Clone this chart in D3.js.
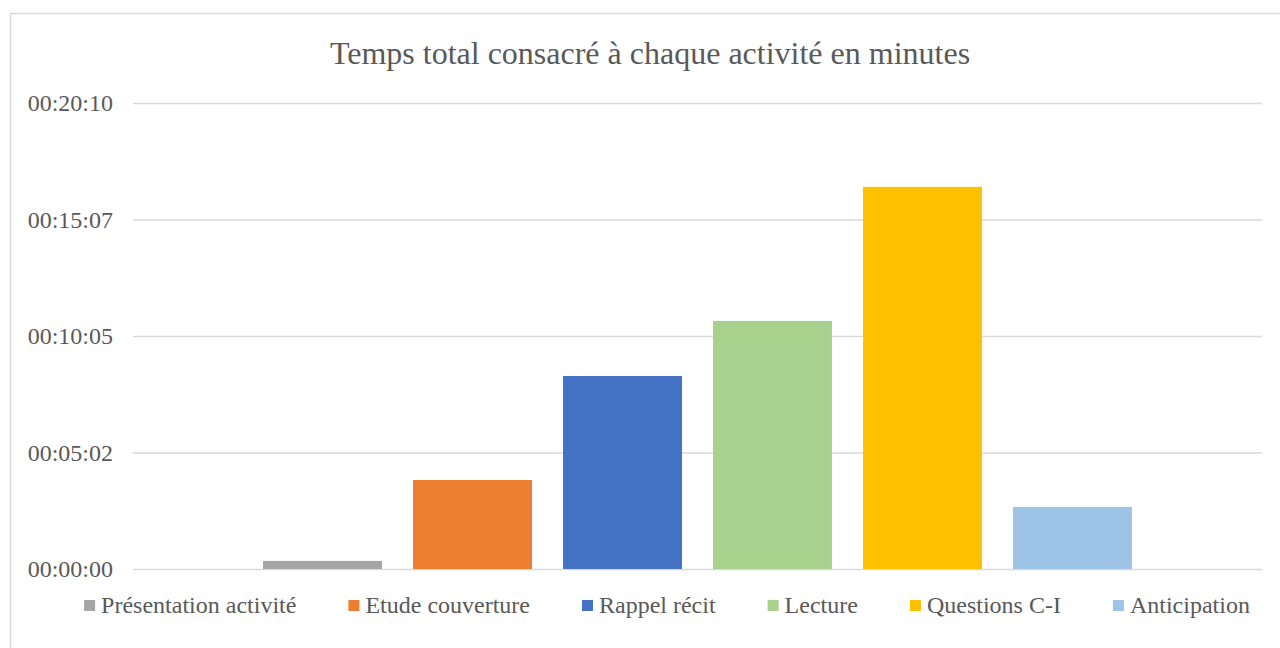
<!DOCTYPE html>
<html>
<head>
<meta charset="utf-8">
<title>Temps total consacré à chaque activité</title>
<script src="https://cdn.jsdelivr.net/npm/d3@7"></script>
<style>
  body { margin: 0; background: #fff; }
</style>
</head>
<body>
<svg width="1280" height="648"></svg>
<script>
// données (durées en secondes)
var activities = ["Présentation activité", "Etude couverture", "Rappel récit", "Lecture", "Questions C-I", "Anticipation"];
var seconds = [21, 231, 501, 644, 992, 161];
var colors = ["#A5A5A5", "#ED7D31", "#4472C4", "#A9D18E", "#FFC000", "#9DC3E6"];
var tickSeconds = [0, 302.4, 604.8, 907.2, 1209.6];
var tickLabels = ["00:00:00", "00:05:02", "00:10:05", "00:15:07", "00:20:10"];
var title = "Temps total consacré à chaque activité en minutes";

var FONT = "'Liberation Serif', serif";
var TXT = "#595959";
var svg = d3.select("svg");
var plot = {left: 133, right: 1262, top: 103, bottom: 569};

// cadre du graphique
svg.append("rect")
  .attr("x", 10.5).attr("y", 13.5)
  .attr("width", 1300).attr("height", 700)
  .attr("fill", "none").attr("stroke", "#D9D9D9").attr("stroke-width", 1.5);

var y = d3.scaleLinear().domain([0, 1209.6]).range([plot.bottom, plot.top]);
var x = d3.scaleBand().domain(activities)
  .range([plot.left, plot.right])
  .paddingInner(0.207).paddingOuter(0.867);

// grille + étiquettes
var yAxis = d3.axisLeft(y)
  .tickValues(tickSeconds)
  .tickSize(-(plot.right - plot.left))
  .tickPadding(20)
  .tickFormat(function(d, i) { return tickLabels[i]; });

var ga = svg.append("g")
  .attr("transform", "translate(" + plot.left + ",0)")
  .call(yAxis);
ga.select(".domain").remove();
ga.selectAll(".tick line").attr("stroke", "#D9D9D9").attr("stroke-width", 1.3);
ga.selectAll(".tick text")
  .attr("fill", TXT)
  .style("font-family", FONT)
  .style("font-size", "24px");

// barres
svg.append("g").selectAll("rect")
  .data(seconds)
  .enter()
  .append("rect")
  .attr("x", function(d, i) { return x(activities[i]); })
  .attr("y", function(d) { return y(d); })
  .attr("width", x.bandwidth())
  .attr("height", function(d) { return y(0) - y(d); })
  .attr("fill", function(d, i) { return colors[i]; });

// titre
svg.append("text")
  .attr("x", 650).attr("y", 64)
  .attr("text-anchor", "middle")
  .attr("fill", TXT)
  .style("font-family", FONT)
  .style("font-size", "32px")
  .text(title);

// légende
var lg = svg.append("g").attr("transform", "translate(0,613)");
var items = lg.selectAll("g")
  .data(activities)
  .enter()
  .append("g");
items.append("rect")
  .attr("width", 11).attr("height", 11)
  .attr("y", -13)
  .attr("fill", function(d, i) { return colors[i]; });
items.append("text")
  .attr("x", 17)
  .attr("fill", TXT)
  .style("font-family", FONT)
  .style("font-size", "24px")
  .text(function(d) { return d; });

var gap = 52, pos = 0, offsets = [];
items.each(function() {
  offsets.push(pos);
  pos += 17 + this.querySelector("text").getComputedTextLength() + gap;
});
var total = pos - gap;
var start = 667 - total / 2;
items.attr("transform", function(d, i) { return "translate(" + (start + offsets[i]) + ",0)"; });
</script>
</body>
</html>
